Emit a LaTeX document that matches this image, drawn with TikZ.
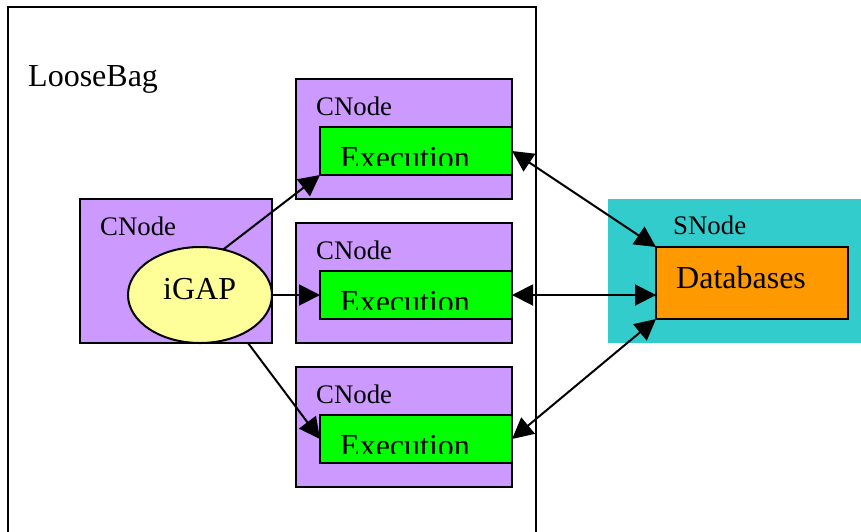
\documentclass[tikz,border=0pt]{standalone}
\usepackage{fontspec}
\setmainfont{Liberation Serif}
\usetikzlibrary{arrows.meta,shapes.geometric}
\definecolor{cnodefill}{HTML}{CC99FF}
\definecolor{execfill}{HTML}{00FF00}
\definecolor{snodefill}{HTML}{33CCCC}
\definecolor{dbfill}{HTML}{FF9900}
\definecolor{igapfill}{HTML}{FFFF99}
\tikzset{
  x=1pt,y=-1pt,
  boxline/.style={draw=black,line width=2pt,outer sep=0pt},
  cnodebox/.style={boxline,fill=cnodefill,minimum width=216pt,minimum height=120pt,inner sep=0pt},
  execbox/.style={boxline,fill=execfill,minimum width=192pt,minimum height=48pt,inner sep=0pt},
  lab/.style={anchor=base west,inner sep=0pt,font=\fontsize{26.8}{30}\selectfont},
  biglab/.style={anchor=base west,inner sep=0pt,font=\fontsize{32}{36}\selectfont},
  conn/.style={line width=2pt,-{Triangle[length=21pt,width=21pt]}},
  biconn/.style={line width=2pt,{Triangle[length=21pt,width=21pt]}-{Triangle[length=21pt,width=21pt]}},
}
\begin{document}
\begin{tikzpicture}
\useasboundingbox (0,0) rectangle (861,531);
\clip (0,0) rectangle (861,531);
\fill[white] (0,0) rectangle (861,531);
% LooseBag
\draw[boxline] (8,545) -- (8,7) -- (536,7) -- (536,545);
\node[biglab] (bag) at (28,86) {LooseBag};
% SNode
\node[fill=snodefill,minimum width=253pt,minimum height=144pt,inner sep=0pt] (snode) at (734.5,271) {};
\node[lab] (snl) at (673,234) {SNode};
\node[boxline,fill=dbfill,minimum width=192pt,minimum height=72pt,inner sep=0pt] (db) at (752,283) {};
\node[biglab] (dbl) at (676,288) {Databases};
\coordinate (dbin) at (656,295);
% CNodes right
\node[cnodebox] (c1) at (404,139) {};
\node[cnodebox] (c2) at (404,283) {};
\node[cnodebox] (c3) at (404,427) {};
\node[lab] (c1l) at (316,115) {CNode};
\node[lab] (c2l) at (316,259) {CNode};
\node[lab] (c3l) at (316,403) {CNode};
\node[execbox] (e1) at (416,151) {};
\node[execbox] (e2) at (416,295) {};
\node[execbox] (e3) at (416,439) {};
\begin{scope}
\clip (322,129) rectangle (510,165);
\node[biglab] (e1l) at (340,168) {Execution};
\end{scope}
\begin{scope}
\clip (322,273) rectangle (510,309);
\node[biglab] (e2l) at (340,312) {Execution};
\end{scope}
\begin{scope}
\clip (322,417) rectangle (510,453);
\node[biglab] (e3l) at (340,456) {Execution};
\end{scope}
% lower-left connector leaves the CNode's lower edge
\coordinate (c0out) at (248,343);
\draw[conn] (c0out) -- (e3.west);
% Left CNode
\node[cnodebox,minimum width=192pt,minimum height=144pt] (c0) at (176,271) {};
\node[lab] (c0l) at (100,235) {CNode};
\node[ellipse,boxline,fill=igapfill,minimum width=144pt,minimum height=96pt,inner sep=0pt] (igap) at (200,295) {};
\node[biglab] (igl) at (163,299) {iGAP};
% connectors
\draw[conn] (igap.63) -- (e1.south west);
\draw[conn] (igap.east) -- (e2.west);
\draw[biconn] (e1.east) -- (db.north west);
\draw[biconn] (e2.east) -- (dbin);
\draw[biconn] (e3.east) -- (db.south west);
\end{tikzpicture}
\end{document}
